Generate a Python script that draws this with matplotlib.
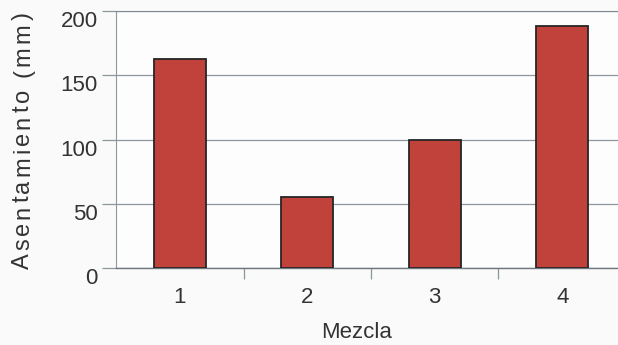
import matplotlib.pyplot as plt

mezclas = ["1", "2", "3", "4"]
asentamiento = [163, 55, 100, 188]
y_ticks = [0, 50, 100, 150, 200]

plt.rcParams['font.family'] = ['Liberation Sans', 'DejaVu Sans']

fig = plt.figure(figsize=(6.18, 3.45), dpi=100, facecolor='#f9faf9')
# plot area runs a little past the right edge of the figure
ax = fig.add_axes([116 / 618, 1 - 268 / 345, 510 / 618, 257 / 345])
ax.set_facecolor('#fdfdfd')

pos = range(len(mezclas))
ax.bar(pos, asentamiento, width=0.41, color='#c1423b', edgecolor='#262626',
       linewidth=1.3, zorder=3)

ax.set_xlim(-0.5, 3.5)
ax.set_ylim(0, 200)
ax.set_yticks(y_ticks)
ax.set_yticklabels([str(v) for v in y_ticks], fontsize=16, color='#333333')
ax.yaxis.grid(True, color='#8d979e', linewidth=0.9, zorder=0)

# category labels between the boundary ticks
ax.set_xticks([0.5, 1.5, 2.5])
ax.set_xticklabels([])
ax.set_xticks(list(pos), minor=True)
ax.set_xticklabels(mezclas, minor=True, fontsize=16, color='#333333')
ax.tick_params(axis='x', which='major', length=8, direction='out',
               color='#8d979e', width=0.9)
ax.tick_params(axis='x', which='minor', length=0, pad=14)
ax.tick_params(axis='y', length=10, direction='out', color='#8d979e',
               width=0.9, pad=3)

ax.spines['right'].set_visible(False)
ax.spines['top'].set_color('#7f8a92')
ax.spines['left'].set_color('#8d979e')
ax.spines['bottom'].set_color('#6f777d')
ax.spines['bottom'].set_linewidth(1.0)

fig.text(357 / 618, 1 - 332 / 345, "Mezcla", ha='center', va='center',
         fontsize=16, color='#333333')

# y label drawn letter by letter to get the wide tracking
label = "Asentamiento (mm)"
fig.canvas.draw()
renderer = fig.canvas.get_renderer()
y = 269
for ch in label:
    t = fig.text(23 / 618, 1 - y / 345, ch, rotation=90, ha='center',
                 va='bottom', fontsize=17, color='#333333')
    ext = t.get_window_extent(renderer)
    step = ext.height if ch.strip() else 6
    y -= step + 3.2

# y tick labels sit a little below their gridlines
for tick in ax.yaxis.get_major_ticks():
    tick.label1.set_verticalalignment('top')
    tick.label1.set_y(tick.label1.get_position()[1])

fig.savefig("out.png", dpi=100, facecolor=fig.get_facecolor())
